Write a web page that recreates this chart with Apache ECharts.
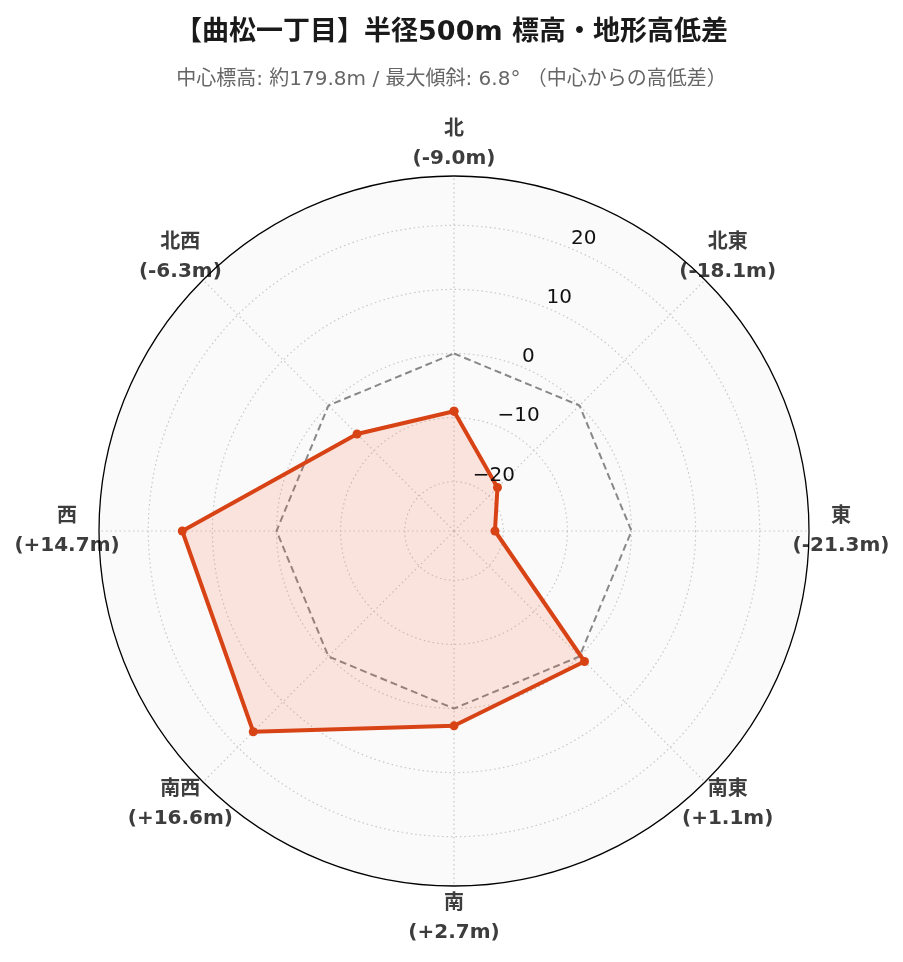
<!DOCTYPE html>
<html>
<head>
<meta charset="utf-8">
<script src="https://cdn.jsdelivr.net/npm/echarts@6/dist/echarts.min.js"></script>
<style>html,body{margin:0;padding:0;background:#fff}#chart{width:903px;height:962px}</style>
</head>
<body>
<div id="chart"></div>
<script>
// ---- data ----
const titleText = '【曲松一丁目】半径500m 標高・地形高低差';
const subtitleText = '中心標高: 約179.8m / 最大傾斜: 6.8° （中心からの高低差）';
const directions = ['北', '北東', '東', '南東', '南', '南西', '西', '北西'];
const directionAngles = [0, 45, 90, 135, 180, 225, 270, 315];
const elevDiff = [-9.0, -18.1, -21.3, 1.1, 2.7, 16.6, 14.7, -6.3];
const zeroLine = [0, 0, 0, 0, 0, 0, 0, 0];
const radialTicks = [-20, -10, 0, 10, 20];
const radialTickLabels = ['\u221220', '\u221210', '0', '10', '20'];
const radialLimit = 27.69;
const tickLabelAngle = 22.5;

// ---- styles ----
const FONT = '"DejaVu Sans", "Noto Sans CJK JP", sans-serif';
const RED = '#d84315';

function fmt(v) { return (v >= 0 ? '+' : '-') + Math.abs(v).toFixed(1) + 'm'; }
function closed(vals) {
  const d = vals.map((v, i) => [v, directionAngles[i]]);
  d.push([vals[0], 360]);
  return d;
}

const chart = echarts.init(document.getElementById('chart'), null, { renderer: 'canvas' });

const option = {
  backgroundColor: '#ffffff',
  animation: false,
  title: {
    text: titleText,
    subtext: subtitleText,
    left: 'center',
    top: 12,
    itemGap: 19,
    textStyle: { fontFamily: FONT, fontSize: 27, fontWeight: 'bold', color: '#1a1a1a', lineHeight: 32 },
    subtextStyle: { fontFamily: FONT, fontSize: 20, color: '#666666', lineHeight: 24 }
  },
  polar: { center: [454, 531], radius: 355 },
  angleAxis: {
    type: 'value', min: 0, max: 360, startAngle: 90, clockwise: true,
    axisLine: { show: false }, axisTick: { show: false }, axisLabel: { show: false }, splitLine: { show: false }
  },
  radiusAxis: {
    type: 'value', min: -radialLimit, max: radialLimit,
    axisLine: { show: false }, axisTick: { show: false }, axisLabel: { show: false }, splitLine: { show: false }
  },
  series: [
    {
      // background, grid circles, spokes
      type: 'custom', coordinateSystem: 'polar', z: 1, silent: true,
      data: [[radialLimit, 0]],
      renderItem: function (params, api) {
        const c = api.coord([-radialLimit, 0]);
        const pe = api.coord([radialLimit, 0]);
        const R = Math.hypot(pe[0] - c[0], pe[1] - c[1]);
        const children = [{
          type: 'circle', shape: { cx: c[0], cy: c[1], r: R },
          style: { fill: '#fafafa', stroke: null }
        }];
        radialTicks.forEach(function (v) {
          const p = api.coord([v, 0]);
          const r = Math.hypot(p[0] - c[0], p[1] - c[1]);
          children.push({
            type: 'circle', shape: { cx: c[0], cy: c[1], r: r },
            style: { fill: null, stroke: '#c8c8c8', lineWidth: 1.2, lineDash: [1.5, 3] }
          });
        });
        directionAngles.forEach(function (a) {
          const p = api.coord([radialLimit, a]);
          children.push({
            type: 'line', shape: { x1: c[0], y1: c[1], x2: p[0], y2: p[1] },
            style: { stroke: '#c8c8c8', lineWidth: 1.2, lineDash: [1.5, 3] }
          });
        });
        return { type: 'group', children: children };
      }
    },
    {
      type: 'line', coordinateSystem: 'polar', z: 2, silent: true,
      data: closed(zeroLine),
      symbol: 'none',
      lineStyle: { color: '#888888', width: 2, type: [7, 4] }
    },
    {
      type: 'line', coordinateSystem: 'polar', z: 3,
      data: closed(elevDiff),
      symbol: 'circle', symbolSize: 9,
      itemStyle: { color: RED },
      lineStyle: { color: RED, width: 4 },
      areaStyle: { origin: 'start', color: 'rgba(255,90,50,0.2)' }
    },
    {
      // radial tick labels
      type: 'custom', coordinateSystem: 'polar', z: 5, silent: true,
      data: radialTicks.map(function (v) { return [v, tickLabelAngle]; }),
      renderItem: function (params, api) {
        const p = api.coord([api.value(0), api.value(1)]);
        return {
          type: 'text', x: p[0], y: p[1],
          style: {
            text: radialTickLabels[params.dataIndex],
            fill: '#111111', font: '20px ' + FONT,
            align: 'left', verticalAlign: 'bottom'
          }
        };
      }
    },
    {
      // direction labels
      type: 'custom', coordinateSystem: 'polar', z: 5, silent: true,
      data: directionAngles.map(function (a) { return [radialLimit, a]; }),
      renderItem: function (params, api) {
        const c = api.coord([-radialLimit, 0]);
        const p = api.coord([api.value(0), api.value(1)]);
        const R = Math.hypot(p[0] - c[0], p[1] - c[1]);
        const k = (R + 32) / R;
        const i = params.dataIndex;
        return {
          type: 'text',
          x: c[0] + (p[0] - c[0]) * k,
          y: c[1] + (p[1] - c[1]) * k,
          style: {
            text: directions[i] + '\n(' + fmt(elevDiff[i]) + ')',
            fill: '#3d3d3d', font: 'bold 20px ' + FONT,
            lineHeight: 29, align: 'center', verticalAlign: 'middle'
          }
        };
      }
    },
    {
      // outer circle
      type: 'custom', coordinateSystem: 'polar', z: 6, silent: true,
      data: [[radialLimit, 0]],
      renderItem: function (params, api) {
        const c = api.coord([-radialLimit, 0]);
        const pe = api.coord([radialLimit, 0]);
        const R = Math.hypot(pe[0] - c[0], pe[1] - c[1]);
        return {
          type: 'circle', shape: { cx: c[0], cy: c[1], r: R },
          style: { fill: null, stroke: '#000000', lineWidth: 1.3 }
        };
      }
    }
  ]
};
chart.setOption(option);
</script>
</body>
</html>
